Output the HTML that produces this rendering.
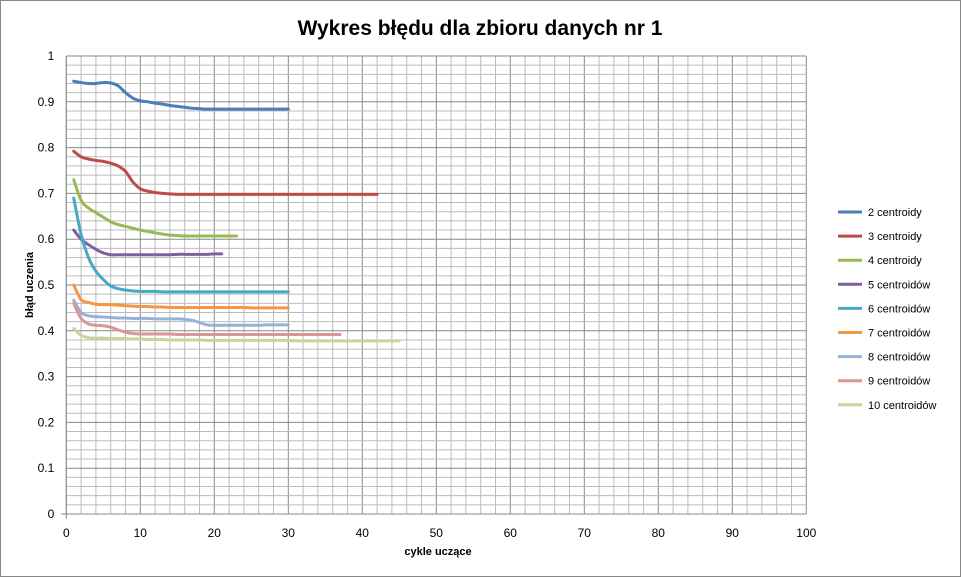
<!DOCTYPE html>
<html><head><meta charset="utf-8"><style>
body{margin:0;background:#fff;font-family:"Liberation Sans",sans-serif}
svg{display:block}
</style></head><body>
<svg id="c" width="961" height="577" xmlns="http://www.w3.org/2000/svg">
<rect x="0.5" y="0.5" width="960" height="576" fill="#fff" stroke="#888"/>
<text x="480" y="35" text-anchor="middle" font-size="21" font-weight="bold">Wykres błędu dla zbioru danych nr 1</text>
<g id="grid"></g><g id="axes"></g><g id="series"></g><g id="legend"></g>
<text transform="translate(33,285) rotate(-90)" text-anchor="middle" font-size="11" font-weight="bold">błąd uczenia</text>
<text x="438" y="555" text-anchor="middle" font-size="11" font-weight="bold">cykle uczące</text>
</svg>
<script>
const names=["2 centroidy","3 centroidy","4 centroidy","5 centroidów","6 centroidów","7 centroidów","8 centroidów","9 centroidów","10 centroidów"];
const colors=["#4a7ebb","#be4b48","#98b954","#7d60a0","#46aac5","#f69546","#95b3d7","#d99694","#c3d69b"];
const s2=[.945,.942,.94,.94,.942,.941,.935,.92,.908,.902,.9,.897,.895,.892,.89,.888,.886,.885,.884,.884,.884,.884,.884,.884,.884,.884,.884,.884,.884,.884];
const s3=[.792,.78,.775,.772,.77,.766,.76,.748,.725,.71,.705,.702,.7,.699,.698,.698,.698,.698,.698,.698,.698,.698,.698,.698,.698,.698,.698,.698,.698,.698,.698,.698,.698,.698,.698,.698,.698,.698,.698,.698,.698,.698];
const s4=[.73,.685,.668,.658,.648,.638,.632,.628,.624,.62,.617,.614,.611,.609,.608,.607,.607,.607,.607,.607,.607,.607,.607];
const s5=[.62,.6,.588,.578,.57,.566,.566,.566,.566,.566,.566,.566,.566,.566,.567,.567,.567,.567,.567,.568,.568];
const s6=[.69,.61,.56,.53,.512,.498,.492,.489,.487,.486,.486,.486,.485,.485,.485,.485,.485,.485,.485,.485,.485,.485,.485,.485,.485,.485,.485,.485,.485,.485];
const s7=[.5,.468,.462,.458,.457,.457,.456,.455,.454,.453,.453,.452,.452,.451,.451,.451,.451,.451,.451,.451,.451,.451,.451,.451,.45,.45,.45,.45,.45,.45];
const s8=[.467,.44,.433,.431,.43,.429,.428,.428,.427,.427,.427,.426,.426,.426,.426,.425,.423,.418,.413,.412,.412,.412,.412,.412,.412,.412,.413,.413,.413,.413];
const s9=[.46,.427,.415,.412,.411,.408,.402,.397,.394,.393,.393,.393,.393,.393,.392,.392,.392,.392,.392,.392,.392,.392,.392,.392,.392,.392,.392,.392,.392,.392,.392,.392,.392,.392,.392,.392,.392];
const s10=[.405,.39,.385,.384,.384,.383,.383,.383,.382,.382,.381,.381,.381,.38,.38,.38,.38,.38,.379,.379,.379,.379,.379,.379,.379,.379,.379,.379,.379,.379,.378,.378,.378,.378,.378,.378,.378,.378,.378,.378,.378,.378,.378,.378,.378];
const seriesData=[s2,s3,s4,s5,s6,s7,s8,s9,s10];
const xTicks=[0,10,20,30,40,50,60,70,80,90,100];
const yTicks=[0,0.1,0.2,0.3,0.4,0.5,0.6,0.7,0.8,0.9,1];
const X=v=>66.3+v*7.4, Y=v=>514-v*458;
const NS="http://www.w3.org/2000/svg";
function mk(p,t,a){const e=document.createElementNS(NS,t);for(const k in a)e.setAttribute(k,a[k]);p.appendChild(e);return e;}
const grid=document.getElementById('grid'),axes=document.getElementById('axes'),ser=document.getElementById('series'),leg=document.getElementById('legend');
for(let i=0;i<=50;i++){const x=X(i*2);const l=mk(grid,'line',{x1:x,x2:x,y1:Y(1),y2:Y(0),stroke:i%5?'#bbb':'#888','stroke-width':1});

}
for(let i=0;i<=50;i++){const y=Y(i*0.02);const l=mk(grid,'line',{x1:X(0),x2:X(100),y1:y,y2:y,stroke:i%5?'#bbb':'#888','stroke-width':1});

}
mk(axes,'line',{x1:X(0),x2:X(0),y1:Y(1),y2:Y(0)+5,stroke:'#888'});
mk(axes,'line',{x1:X(0)-5,x2:X(100),y1:Y(0),y2:Y(0),stroke:'#888'});
xTicks.forEach(v=>{const t=mk(axes,'text',{x:X(v),y:Y(0)+23,'text-anchor':'middle','font-size':12});t.textContent=v;

});
yTicks.forEach(v=>{const t=mk(axes,'text',{x:X(0)-12,y:Y(v)+4,'text-anchor':'end','font-size':12});t.textContent=+v.toFixed(1);

});
function smooth(pts){let d=`M${pts[0][0]},${pts[0][1]}`;for(let i=0;i<pts.length-1;i++){const p0=pts[i-1]||pts[i],p1=pts[i],p2=pts[i+1],p3=pts[i+2]||p2;
d+=` C${p1[0]+(p2[0]-p0[0])/6},${p1[1]+(p2[1]-p0[1])/6} ${p2[0]-(p3[0]-p1[0])/6},${p2[1]-(p3[1]-p1[1])/6} ${p2[0]},${p2[1]}`;}return d;}
seriesData.forEach((s,k)=>{const pts=s.map((v,i)=>[X(i+1),Y(v)]);
const p=mk(ser,'path',{d:smooth(pts),fill:'none',stroke:colors[k],'stroke-width':3,'stroke-linecap':'round'});


const ly=212+k*24.1;
const g=mk(leg,'g',{});


mk(g,'line',{x1:838,x2:862,y1:ly,y2:ly,stroke:colors[k],'stroke-width':3});
const t=mk(g,'text',{x:868,y:ly+4,'font-size':11});t.textContent=names[k];});
</script>
</body></html>
